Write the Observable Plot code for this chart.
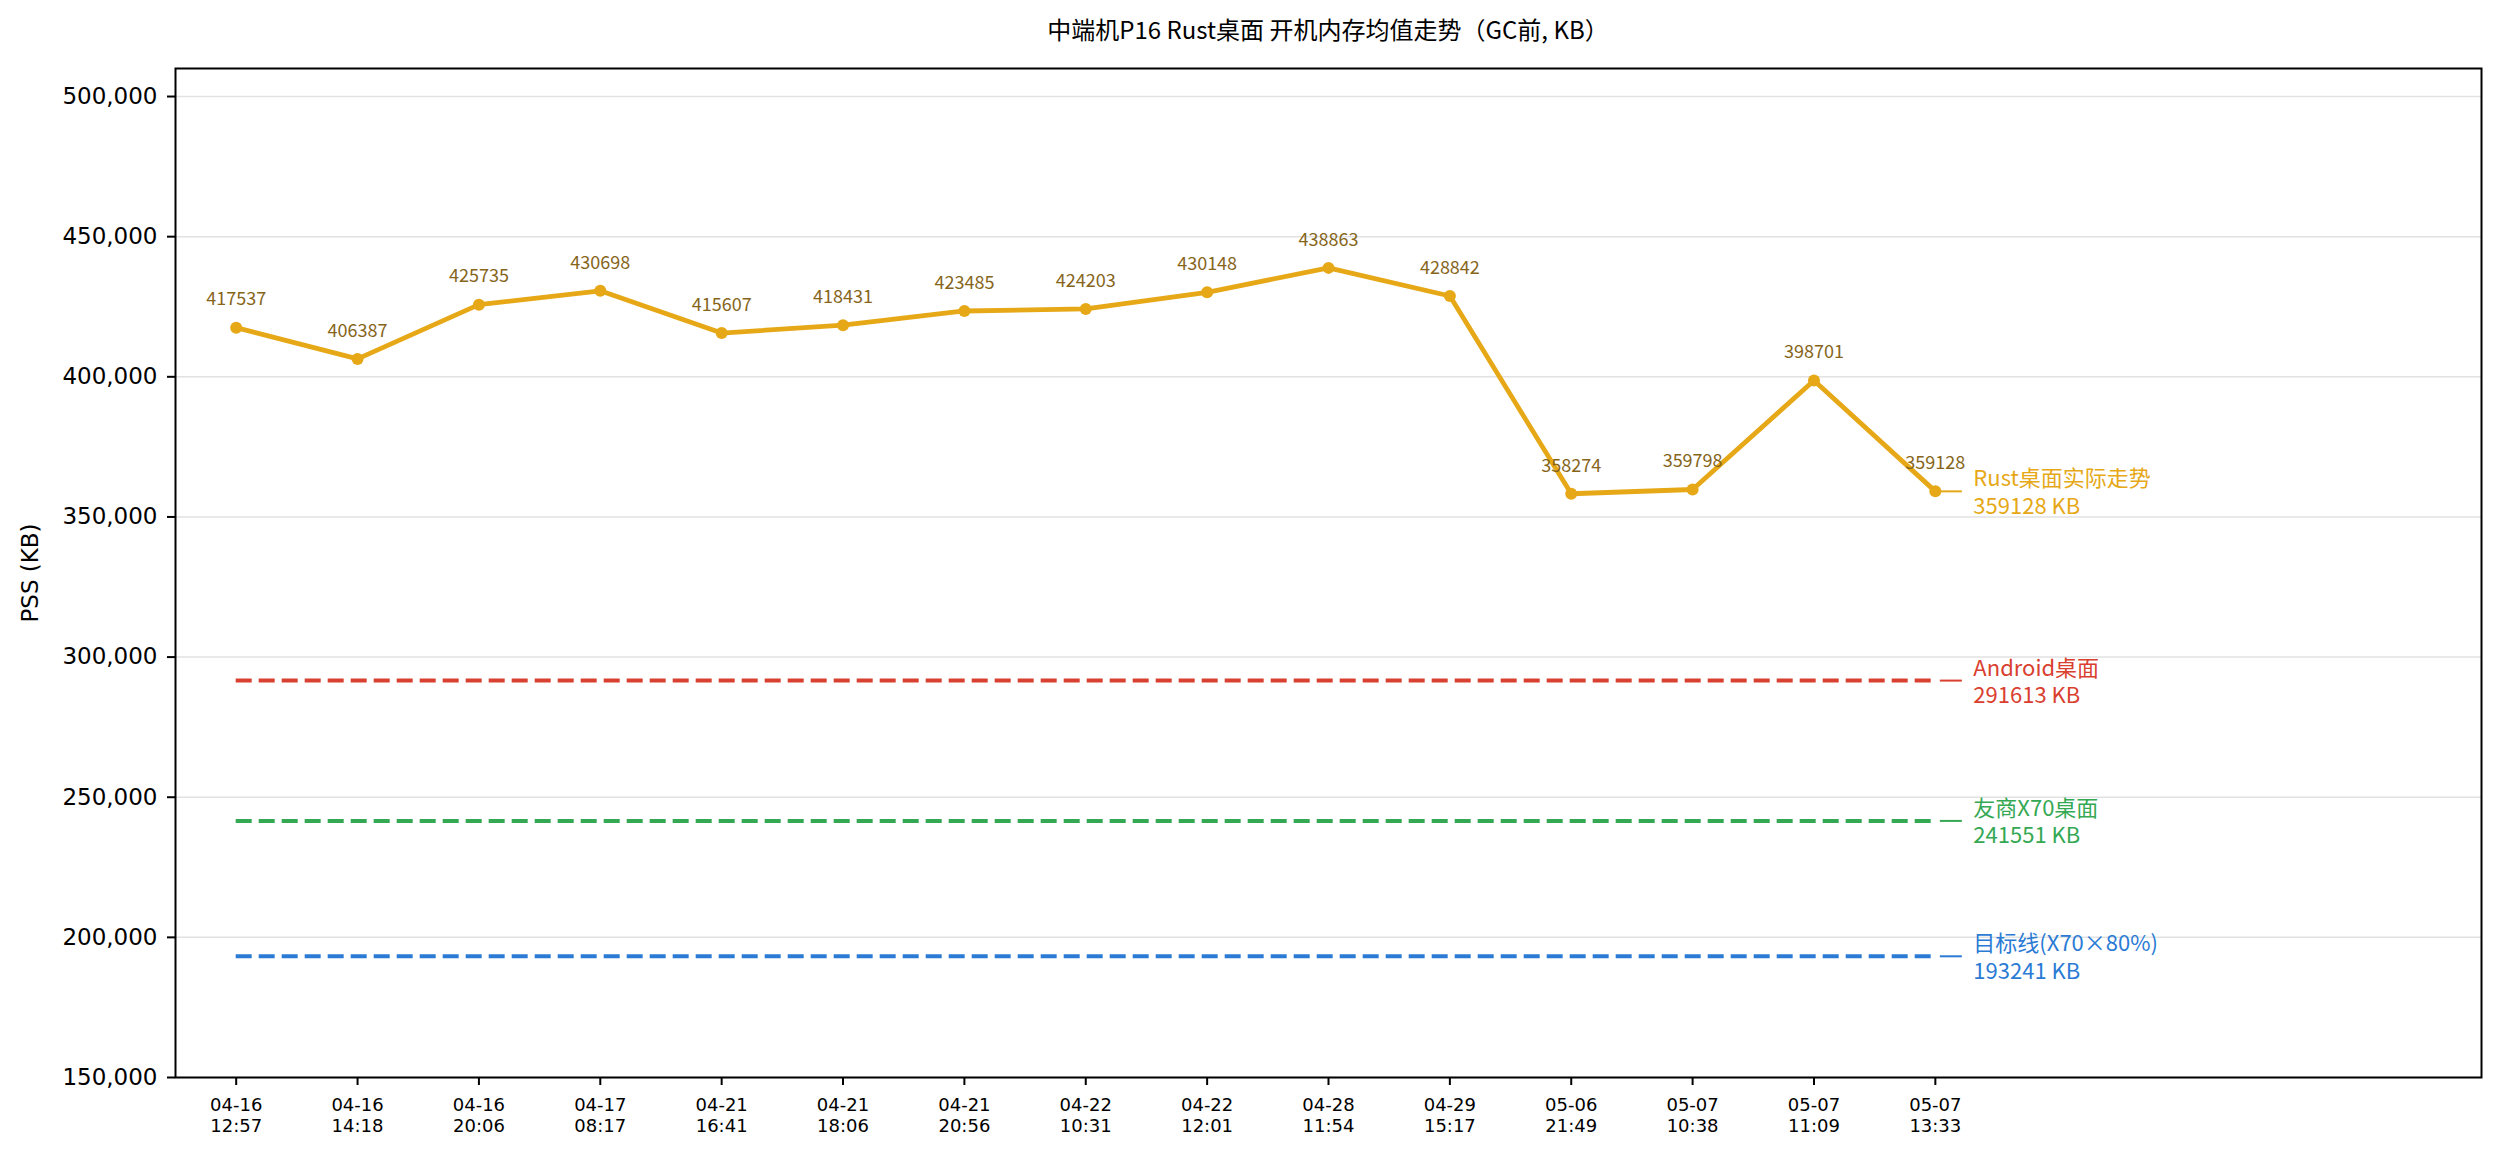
<!DOCTYPE html>
<html>
<head>
<meta charset="utf-8">
<script src="https://cdn.jsdelivr.net/npm/d3@7"></script>
<script src="https://cdn.jsdelivr.net/npm/@observablehq/plot@0.6"></script>
<style>
  html, body { margin: 0; padding: 0; background: #fff; }
  #title {
    box-sizing: border-box;
    height: 52px;
    padding-top: 17px;
    margin-left: 175px;
    width: 2306px;
    text-align: center;
    font-family: "Noto Sans CJK SC", sans-serif;
    font-size: 24px;
    line-height: 24px;
    color: #000;
  }
</style>
</head>
<body>
<div id="title">中端机P16 Rust桌面 开机内存均值走势（GC前, KB）</div>
<div id="chart"></div>
<script>
// ---- data ----
const timeLabels = [
  "04-16 12:57", "04-16 14:18", "04-16 20:06", "04-17 08:17", "04-21 16:41",
  "04-21 18:06", "04-21 20:56", "04-22 10:31", "04-22 12:01", "04-28 11:54",
  "04-29 15:17", "05-06 21:49", "05-07 10:38", "05-07 11:09", "05-07 13:33"
];
const rustValues = [
  417537, 406387, 425735, 430698, 415607,
  418431, 423485, 424203, 430148, 438863,
  428842, 358274, 359798, 398701, 359128
];
const rustName = "Rust桌面实际走势";
const refNames = ["Android桌面", "友商X70桌面", "目标线(X70×80%)"];
const refValues = [291613, 241551, 193241];
const yTicks = [150000, 200000, 250000, 300000, 350000, 400000, 450000, 500000];

// ---- styles ----
const rustColor = "#e6a817";
const pointLabelColor = "#86651a";
const refColors = ["#d9402f", "#34a853", "#2b7bd5"];
const cjk = "Noto Sans CJK SC";

// ---- derived tables ----
const n = rustValues.length;
const last = n - 1;
const rust = rustValues.map((v, i) => ({i, v}));
const refs = refNames.map((name, k) => ({
  name, value: refValues[k], color: refColors[k], x1: 0, x2: last,
  label: `${name}\n${refValues[k]} KB`
}));
const endLabels = [
  {value: rustValues[last], color: rustColor, label: `${rustName}\n${rustValues[last]} KB`, inset: 0},
  ...refs.map(r => ({value: r.value, color: r.color, label: r.label, inset: 5}))
];

const chart = Plot.plot({
  width: 2499,
  height: 1101,
  marginTop: 16,
  marginBottom: 76,
  marginLeft: 175,
  marginRight: 18,
  style: {fontFamily: "DejaVu Sans", background: "#fff", color: "#000"},
  x: {type: "linear", domain: [-0.5, n + 3.5]},
  y: {domain: [150000, 510000]},
  marks: [
    Plot.gridY(yTicks, {stroke: "#e2e2e2", strokeOpacity: 1, strokeWidth: 1.5}),
    // reference dashed lines
    Plot.ruleY(refs, {
      y: "value", x1: "x1", x2: "x2", stroke: "color",
      strokeWidth: 4, strokeDasharray: "16,7"
    }),
    // connectors to end labels
    Plot.ruleY(endLabels.filter(d => d.inset === 0), {
      y: "value", x1: () => last, x2: () => last, stroke: "color",
      strokeWidth: 2, insetLeft: 0, insetRight: -27
    }),
    Plot.ruleY(endLabels.filter(d => d.inset !== 0), {
      y: "value", x1: () => last, x2: () => last, stroke: "color",
      strokeWidth: 2, insetLeft: 5, insetRight: -27
    }),
    // rust line
    Plot.line(rust, {x: "i", y: "v", stroke: rustColor, strokeWidth: 4.8, strokeLinejoin: "round"}),
    Plot.dot(rust, {x: "i", y: "v", r: 6, fill: rustColor}),
    Plot.text(rust, {
      x: "i", y: "v", text: d => String(d.v), dy: -28,
      fill: pointLabelColor, fontSize: 18, fontFamily: cjk
    }),
    // end labels
    Plot.text(endLabels, {
      x: () => last, y: "value", text: "label", fill: "color",
      dx: 38, textAnchor: "start", lineAnchor: "middle",
      fontSize: 22, lineHeight: 1.25, fontFamily: cjk
    }),
    // axes
    Plot.axisY(yTicks, {
      tickFormat: d3.format(","), tickSize: 8, tickPadding: 10,
      fontSize: 23, strokeWidth: 2, label: null
    }),
    Plot.axisX(d3.range(n), {
      tickFormat: i => timeLabels[i].replace(" ", "\n"),
      tickSize: 8, tickPadding: 10, fontSize: 18, lineHeight: 1.2,
      strokeWidth: 2, label: null
    }),
    Plot.text(["PSS (KB)"], {
      frameAnchor: "left", text: d => d, rotate: -90, dx: -145,
      fontSize: 23, textAnchor: "middle", lineAnchor: "middle", fill: "#000"
    }),
    Plot.frame({stroke: "#000", strokeWidth: 2})
  ]
});
document.getElementById("chart").appendChild(chart);
</script>
</body>
</html>
